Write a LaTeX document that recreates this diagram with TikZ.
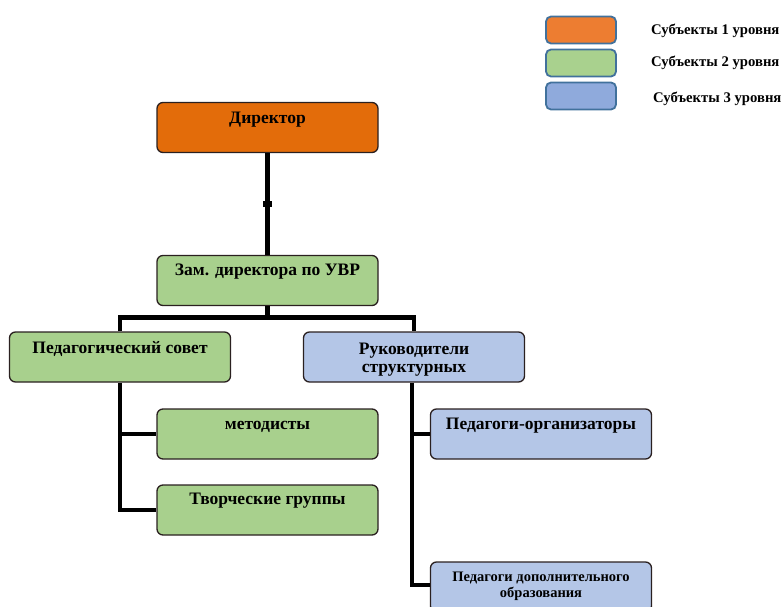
\documentclass[tikz,border=0pt]{standalone}
\usepackage{fontspec}
\setmainfont{Liberation Serif}
\definecolor{orgfill}{HTML}{E36C0A}
\definecolor{grnfill}{HTML}{A8D08D}
\definecolor{blufill}{HTML}{B4C6E7}
\definecolor{legorg}{HTML}{ED7D31}
\definecolor{leggrn}{HTML}{A9D18E}
\definecolor{legblu}{HTML}{8FAADC}
\definecolor{legbrd}{HTML}{41719C}
\definecolor{edge}{HTML}{2A2020}
\definecolor{pinkedge}{HTML}{D98A8A}
\begin{document}
\begin{tikzpicture}[x=1pt,y=-1pt,
  box/.style={draw=edge, line width=1.3pt, rounded corners=6pt, minimum width=221pt, minimum height=50pt, inner sep=0pt},
  pinkline/.style={append after command={[draw=pinkedge, line width=0.9pt, rounded corners=5pt] ([shift={(1.3pt,-1.3pt)}]\tikzlastnode.north west) rectangle ([shift={(-1.3pt,1.3pt)}]\tikzlastnode.south east)}},
  lvlone/.style={box, fill=orgfill},
  lvltwo/.style={box, fill=grnfill},
  lvlthree/.style={box, fill=blufill},
  txt/.style={font=\bfseries\fontsize{17.5}{18}\selectfont, align=center, anchor=base, inner sep=0pt},
  mtxt/.style={font=\bfseries\fontsize{17.5}{18}\selectfont, align=center, anchor=north, inner sep=0pt},
  smalltxt/.style={font=\bfseries\fontsize{14.5}{16}\selectfont, align=center, anchor=north, inner sep=0pt},
  legbox/.style={draw=legbrd, line width=1.8pt, rounded corners=5pt, minimum width=70pt, minimum height=27pt, inner sep=0pt},
  legtxt/.style={font=\bfseries\fontsize{14.7}{16}\selectfont, anchor=west, inner sep=0pt},
  conn/.style={line width=4.5pt}]
\useasboundingbox (0,0) rectangle (782,607);
\clip (0,0) rectangle (782,607);

% legend
\node[legbox, fill=legorg] (l1) at (581,30) {};
\node[legbox, fill=leggrn] (l2) at (581,63) {};
\node[legbox, fill=legblu] (l3) at (581,96) {};
\node[legtxt] (lt1) at (651,31) {Субъекты 1 уровня};
\node[legtxt] (lt2) at (651,63) {Субъекты 2 уровня};
\node[legtxt] (lt3) at (653,99) {Субъекты 3 уровня};

% boxes
\node[lvlone] (dir) at (267.5,127.5) {};
\node[lvltwo, pinkline] (zam) at (267.5,280.5) {};
\node[lvltwo] (ped) at (120,357) {};
\node[lvlthree, pinkline] (rk) at (414,357) {};
\node[lvltwo] (met) at (267.5,434) {};
\node[lvltwo] (tv) at (267.5,510) {};
\node[lvlthree, pinkline] (po) at (541,434) {};
\node[lvlthree, pinkline] (pd) at (541,587) {};

% connectors
\draw[conn] (dir.south) -- (zam.north);
\node[fill=black, minimum width=9pt, minimum height=6pt, inner sep=0pt] (mk) at (267.5,204) {};
\draw[conn] (zam.south) -- ++(0,13);
\draw[conn] (ped.north) -- ++(0,-14) -| (rk.north);
\draw[conn] (ped.south) |- (tv.west);
\draw[conn] (ped.south |- met.west) -- (met.west);
\draw[conn] ([xshift=-2pt]rk.south) |- ([yshift=2pt]pd.west);
\draw[conn] ([xshift=-2pt]rk.south |- po.west) -- (po.west);

% texts
\node[txt] (tdir) at ([yshift=-22]dir.north) {Директор};
\node[txt] (tzam) at ([yshift=-21]zam.north) {Зам. директора по УВР};
\node[txt] (tped) at ([yshift=-22]ped.north) {Педагогический совет};
\node[mtxt] (trk) at ([yshift=-11]rk.north) {Руководители\\структурных};
\node[txt] (tmet) at ([yshift=-21]met.north) {методисты};
\node[txt] (ttv) at ([yshift=-20]tv.north) {Творческие группы};
\node[txt] (tpo) at ([yshift=-21]po.north) {Педагоги-организаторы};
\node[smalltxt] (tpd) at ([yshift=-10]pd.north) {Педагоги дополнительного\\образования};
\end{tikzpicture}
\end{document}
